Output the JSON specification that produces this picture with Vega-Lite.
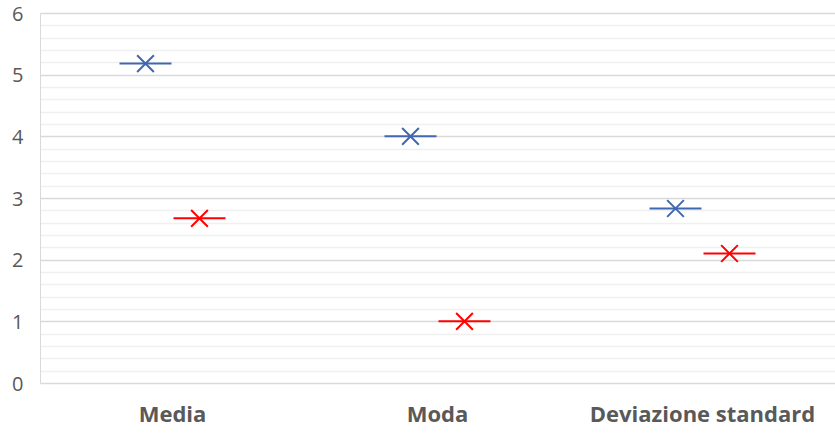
{
  "$schema": "https://vega.github.io/schema/vega-lite/v6.json",
  "autosize": {"type": "none"},
  "width": 795,
  "height": 370,
  "padding": {"left": 40, "top": 13, "right": 0, "bottom": 50},
  "background": "white",
  "config": {"view": {"stroke": null}, "font": "Open Sans"},
  "data": {
    "values": [
      {"stat": "Media", "serie": "Serie 1", "valore": 5.18},
      {"stat": "Media", "serie": "Serie 2", "valore": 2.67},
      {"stat": "Moda", "serie": "Serie 1", "valore": 4.0},
      {"stat": "Moda", "serie": "Serie 2", "valore": 1.0},
      {"stat": "Deviazione standard", "serie": "Serie 1", "valore": 2.83},
      {"stat": "Deviazione standard", "serie": "Serie 2", "valore": 2.1}
    ]
  },
  "encoding": {
    "x": {
      "field": "stat",
      "type": "nominal",
      "sort": ["Media", "Moda", "Deviazione standard"],
      "scale": {"paddingInner": 0, "paddingOuter": 0},
      "axis": {
        "title": null,
        "domain": false,
        "ticks": false,
        "grid": false,
        "labelAngle": 0,
        "labelFontSize": 22,
        "labelFontWeight": "bold",
        "labelColor": "#595959",
        "labelPadding": 21,
        "labelLimit": 0
      }
    },
    "xOffset": {
      "field": "serie",
      "sort": ["Serie 1", "Serie 2"],
      "scale": {"range": [78.5, 186.5], "paddingInner": 0, "paddingOuter": 0}
    },
    "y": {
      "field": "valore",
      "type": "quantitative",
      "scale": {"domain": [0, 6], "nice": false},
      "axis": {
        "title": null,
        "domain": true,
        "domainColor": "#d9d9d9",
        "ticks": false,
        "tickCount": 31,
        "values": [0, 0.2, 0.4, 0.6, 0.8, 1, 1.2, 1.4, 1.6, 1.8, 2, 2.2, 2.4, 2.6, 2.8, 3, 3.2, 3.4, 3.6, 3.8, 4, 4.2, 4.4, 4.6, 4.8, 5, 5.2, 5.4, 5.6, 5.8, 6],
        "labelExpr": "abs(datum.value - round(datum.value)) < 0.001 ? format(datum.value, 'd') : ''",
        "labelOverlap": false,
        "labelOffset": 1,
        "gridColor": {
          "condition": {"test": "abs(datum.value - round(datum.value)) < 0.001", "value": "#d9d9d9"},
          "value": "#f0f0f0"
        },
        "gridWidth": 1.3,
        "labelFontSize": 20,
        "labelColor": "#595959",
        "labelPadding": 17
      }
    },
    "color": {
      "field": "serie",
      "type": "nominal",
      "scale": {"domain": ["Serie 1", "Serie 2"], "range": ["#4068B0", "#FF0000"]},
      "legend": null
    }
  },
  "layer": [
    {"mark": {"type": "tick", "size": 52, "thickness": 2, "opacity": 1}},
    {"mark": {"type": "point", "shape": "M-1,-1L1,1M-1,1L1,-1", "size": 280, "filled": false, "strokeWidth": 2, "opacity": 1}}
  ]
}
